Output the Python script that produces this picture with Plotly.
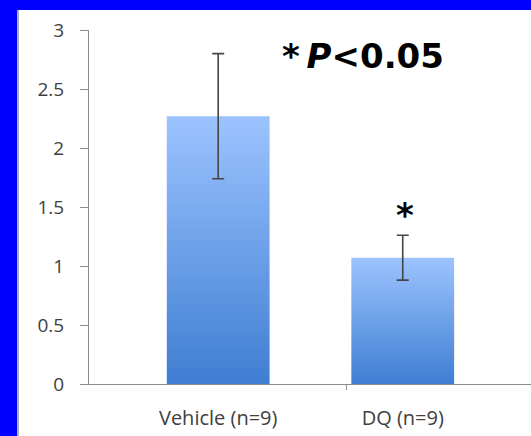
import plotly.graph_objects as go

# ---- data ----
categories = ["Vehicle (n=9)", "DQ (n=9)"]
values = [2.27, 1.07]
errors = [0.53, 0.19]
y_ticks = [0, 0.5, 1, 1.5, 2, 2.5, 3]
y_tick_labels = ["0", "0.5", "1", "1.5", "2", "2.5", "3"]
sig_label = "*\u2009<i>P</i>&lt;0.05"
star_label = "*"

# ---- layout constants ----
W, H = 531, 436
ML, MR, MT, MB = 89, 0, 30, 52
PW, PH = W - ML - MR, H - MT - MB
XR = [-0.7, 1.695]
BAR_W = 0.557
TOP_C = "#9cc3ff"
BOT_C = "#3f7ed2"
AXIS_C = "#8c8c8c"

fig = go.Figure()

xs = list(range(len(categories)))
for i, v in zip(xs, values):
    x0, x1 = i - BAR_W / 2, i + BAR_W / 2
    fig.add_trace(go.Scatter(
        x=[x0, x1, x1, x0, x0], y=[0, 0, v, v, 0],
        mode="lines", line=dict(width=0), fill="toself",
        fillgradient=dict(type="vertical",
                          colorscale=[[0, BOT_C], [1, TOP_C]]),
        hoverinfo="skip", showlegend=False))

fig.add_trace(go.Scatter(
    x=xs, y=values, mode="markers",
    marker=dict(size=1, color="rgba(0,0,0,0)"),
    error_y=dict(type="data", array=errors, visible=True,
                 color="#454545", thickness=1.6, width=6),
    showlegend=False, hoverinfo="skip"))

# white panel on blue background
px = lambda p: (p - ML) / PW
py = lambda p: (H - MB - p) / PH
fig.add_shape(type="rect", xref="paper", yref="paper",
              x0=px(17), x1=1.0, y0=py(H + 5), y1=py(10),
              fillcolor="white", line=dict(width=0), layer="below")
fig.add_shape(type="line", xref="paper", yref="paper",
              x0=px(18), x1=px(18), y0=py(H + 5), y1=py(10),
              line=dict(color="#b0b0b0", width=2), layer="below")
# category boundary tick
fig.add_shape(type="line", xref="x", yref="paper",
              x0=0.695, x1=0.695, y0=0, y1=-6 / PH,
              line=dict(color=AXIS_C, width=1))

fig.add_annotation(text=sig_label, x=px(363), y=py(34),
                   xref="paper", yref="paper", showarrow=False,
                   font=dict(family="DejaVu Sans", size=34, color="black",
                             weight="bold"))
fig.add_annotation(text=star_label, x=1.01, y=1.43, xref="x", yref="y",
                   showarrow=False,
                   font=dict(family="DejaVu Sans", size=34, color="black",
                             weight="bold"))

fig.update_layout(
    width=W, height=H,
    margin=dict(l=ML, r=MR, t=MT, b=MB),
    paper_bgcolor="#0000ff", plot_bgcolor="rgba(0,0,0,0)",
    xaxis=dict(range=XR, tickmode="array", tickvals=xs, ticktext=categories,
               showgrid=False, zeroline=False, showline=True,
               linecolor=AXIS_C, linewidth=1, ticks="",
               ticklabelstandoff=16,
               tickfont=dict(family="Open Sans", size=20, color="#404040")),
    yaxis=dict(range=[0, 3], tickmode="array", tickvals=y_ticks,
               ticktext=y_tick_labels, showgrid=False, zeroline=False,
               showline=True, linecolor=AXIS_C, linewidth=1,
               ticks="outside", ticklen=8, tickcolor=AXIS_C,
               ticklabelstandoff=12,
               tickfont=dict(family="Open Sans", size=19, color="#404040")),
)

fig.write_html("out.html")
